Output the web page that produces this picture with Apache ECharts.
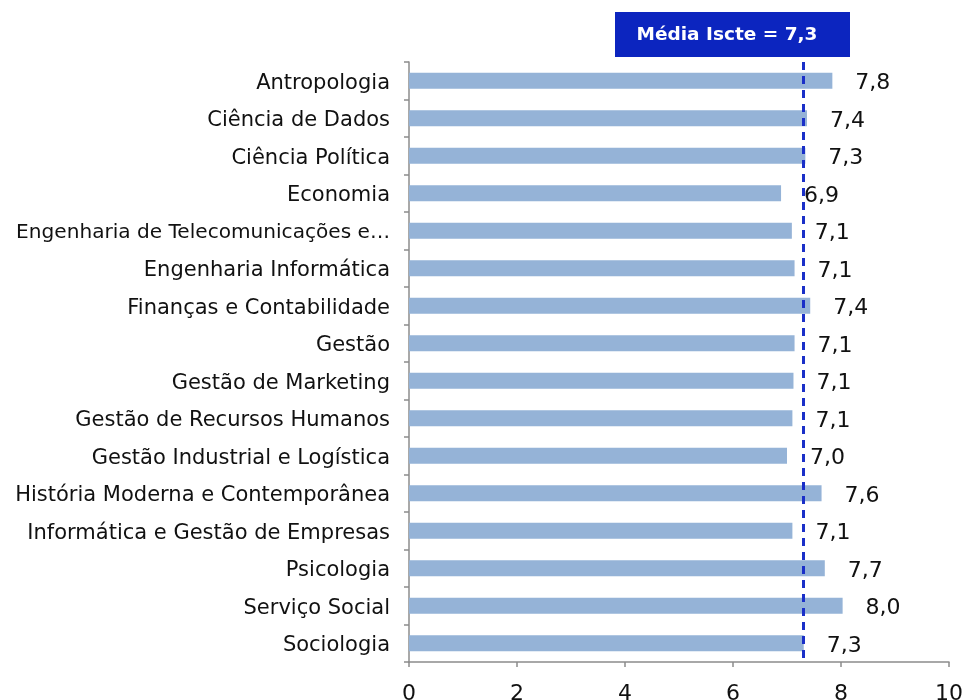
<!DOCTYPE html>
<html>
<head>
<meta charset="utf-8">
<script src="https://cdn.jsdelivr.net/npm/echarts@6/dist/echarts.min.js"></script>
<style>
  html, body { margin: 0; padding: 0; background: #fff; }
  #chart { width: 967px; height: 700px; }
</style>
</head>
<body>
<div id="chart"></div>
<script>
const courses = [
  "Antropologia",
  "Ciência de Dados",
  "Ciência Política",
  "Economia",
  "Engenharia de Telecomunicações e…",
  "Engenharia Informática",
  "Finanças e Contabilidade",
  "Gestão",
  "Gestão de Marketing",
  "Gestão de Recursos Humanos",
  "Gestão Industrial e Logística",
  "História Moderna e Contemporânea",
  "Informática e Gestão de Empresas",
  "Psicologia",
  "Serviço Social",
  "Sociologia",
];
const scores = [7.84, 7.37, 7.34, 6.89, 7.09, 7.14, 7.43, 7.14, 7.12, 7.1, 7.0, 7.64, 7.1, 7.7, 8.03, 7.31];
const average = 7.3;
const xTicks = [0, 2, 4, 6, 8, 10];

const FONT = "'DejaVu Sans', Verdana, sans-serif";
const fmtPt = (v) => v.toFixed(1).replace(".", ",");

const chart = echarts.init(document.getElementById("chart"));
chart.setOption({
  animation: false,
  grid: { left: 409, right: 18, top: 62, bottom: 38, outerBoundsMode: "none" },
  xAxis: {
    type: "value",
    min: xTicks[0],
    max: xTicks[xTicks.length - 1],
    interval: 2,
    splitLine: { show: false },
    axisLine: { show: true, lineStyle: { color: "#8c8c8c", width: 1.5 } },
    axisTick: { show: true, length: 5, lineStyle: { color: "#8c8c8c", width: 1.5 } },
    axisLabel: { color: "#111", fontSize: 22, fontFamily: FONT, margin: 21 },
  },
  yAxis: {
    type: "category",
    data: courses,
    inverse: true,
    axisLine: { show: true, lineStyle: { color: "#8c8c8c", width: 1.5 } },
    axisTick: { show: true, length: 5, lineStyle: { color: "#8c8c8c", width: 1.5 } },
    axisLabel: {
      color: "#111",
      fontSize: 21,
      fontFamily: FONT,
      margin: 19,
      padding: [5, 0, 0, 0],
      formatter: (v) => (v.length > 32 ? "{s|" + v + "}" : v),
      rich: { s: { fontSize: 20.1, fontFamily: FONT, color: "#111" } },
    },
  },
  series: [{
    type: "bar",
    data: scores,
    barWidth: 16,
    itemStyle: { color: "#95b3d7" },
    label: {
      show: true,
      position: "right",
      distance: 23,
      offset: [0, 3],
      color: "#111",
      fontSize: 22,
      fontFamily: FONT,
      formatter: (p) => fmtPt(p.value),
    },
    markLine: {
      symbol: "none",
      silent: true,
      label: { show: false },
      lineStyle: { color: "#1a2fc8", type: [8, 6], width: 3 },
      data: [{ xAxis: average }],
    },
  }],
  graphic: [{
    type: "group",
    left: 615,
    top: 12,
    children: [
      { type: "rect", shape: { x: 0, y: 0, width: 235, height: 45 }, style: { fill: "#0c25bf" } },
      {
        type: "text",
        x: 112,
        y: 23,
        style: {
          text: "Média Iscte = " + fmtPt(average),
          fill: "#fff",
          font: "bold 18.5px " + FONT,
          align: "center",
          verticalAlign: "middle",
        },
      },
    ],
  }],
});
</script>
</body>
</html>
